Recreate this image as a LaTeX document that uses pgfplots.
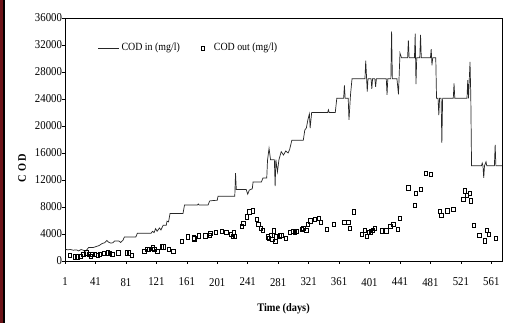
\documentclass[border=0pt]{standalone}
\usepackage{fontspec}
\setmainfont[FakeStretch=0.9]{Liberation Serif}
\usepackage{pgfplots}
\pgfplotsset{compat=1.18}
\definecolor{stripred}{RGB}{110,20,25}
\pgfplotsset{
  lineleg/.style={legend image code/.code={\draw[##1] (0pt,0pt) -- (21pt,0pt);}},
  markleg/.style={legend image code/.code={\path[draw=none,fill=none] (0pt,-1pt) rectangle (13pt,1pt); \draw[##1] plot coordinates {(4pt,0pt)};}}
}
\begin{document}
\begin{tikzpicture}[x=1pt,y=1pt]
\useasboundingbox (0,0) rectangle (511,323);
\fill[white] (0,0) rectangle (511,323);
\fill[stripred] (0,0) rectangle (3,323);
\fill[black] (3,0) rectangle (4.5,323);
\begin{axis}[
  at={(65pt,62pt)}, anchor=south west,
  scale only axis, width=437pt, height=243pt,
  xmin=1, xmax=575, ymin=0, ymax=36000,
  xtick={1,41,...,561}, ytick={0,4000,...,36000},
  scaled y ticks=false,
  /pgf/number format/assume math mode=true,
  /pgf/number format/1000 sep={},
  tick align=outside, major tick length=3pt,
  xtick pos=bottom, ytick pos=left,
  axis line style={line width=0.8pt},
  tick style={line width=0.6pt, black},
  tick label style={font=\fontsize{12}{14}\selectfont},
  xticklabel style={yshift=-10.5pt},
  yticklabel style={xshift=3.5pt},
  xlabel={\textbf{Time (days)}},
  xlabel style={at={(axis description cs:0.5,0)}, anchor=center, yshift=-48pt, font=\fontsize{11.5}{13}\selectfont},
  ylabel={\textbf{C O D}},
  ylabel style={at={(axis description cs:0,0.383)}, anchor=center, rotate=0, yshift=43pt, font=\fontsize{11.5}{13}\selectfont},
  legend style={at={(0.068,0.877)}, anchor=west, draw=none, fill=none,
    font=\fontsize{11}{13}\selectfont, legend columns=2,
    /tikz/every even column/.append style={column sep=17pt}},
  legend cell align=left,
]
\addplot[black!85, line width=0.7pt, lineleg] coordinates {
(1,1800)(4,1650)(8,1700)(12,1600)(16,1650)(19,1500)(22,1700)(25,1600)(28,1450)(30,1700)
(32,2000)(38,2000)(42,2150)(46,2300)(50,2600)(53,2700)(56,3050)(58,2800)(61,2650)(64,2700)
(66,2950)(72,2950)(74,2750)(77,3050)(79,3550)(94,3550)(96,4100)(114,4100)(116,4400)(118,4200)
(120,4800)(122,4400)(125,4900)(127,4600)(130,5300)(134,5300)(135,5900)(137,5800)(139,7050)(156,7050)
(158,8300)(175,8300)(176,8450)(177,8300)(189,8300)(191,8900)(195,8950)(201,9000)(202,9600)(224,9600)
(225,13000)(226,10600)(239,10600)(241,9900)(243,10500)(247,10700)(248,11700)(259,11700)(261,12300)(266,12300)
(267,14900)(269,16700)(271,15000)(276,15000)(277,11100)(278,15000)(280,13200)(282,15000)(285,16200)(288,15700)
(291,16300)(294,16000)(296,16500)(299,17900)(314,17900)(316,19400)(318,19700)(320,20900)(322,21800)(323,19700)
(325,22000)(346,22000)(347,22400)(348,22000)(356,22000)(358,24100)(367,24100)(368,26000)(369,24100)(373,24100)
(374,20900)(376,24600)(378,27000)(395,27000)(396,29700)(398,25100)(399,27000)(403,27000)(404,25500)(405,27000)
(408,27000)(409,25800)(410,27000)(423,27000)(424,24600)(425,27000)(429,27000)(430,34000)(431,27000)(437,27000)
(439,24700)(441,30800)(443,30100)(451,30100)(452,32700)(453,30100)(460,30100)(461,33700)(462,26200)(463,30100)
(467,30100)(468,33500)(469,30100)(481,30100)(482,31400)(483,29000)(484,30100)(488,30100)(489,24100)(491,24100)
(492,21600)(493,24100)(495,24100)(496,17500)(497,24100)(511,24100)(512,26300)(513,24100)(529,24100)(530,26800)
(531,24100)(533,29500)(534,24500)(535,14100)(548,14100)(549,14500)(550,14100)(551,12300)(552,14100)(554,14700)
(555,14100)(565,14100)(566,17200)(567,14100)(575,14100)
};
\addlegendentry{COD in (mg/l)}
\addplot[only marks, black, mark=square, mark size=2.1pt,
  mark options={solid, line width=0.5pt, xscale=0.8}, markleg] coordinates {
(7,890)(14,640)(17,640)(21,700)(25,1040)(29,1230)(32,1040)(35,700)(37,1040)(40,1040)
(44,890)(47,1040)(52,1140)(57,1230)(60,1140)(63,1040)(71,1230)(82,1230)(85,1230)(89,890)
(105,1480)(109,1730)(111,1730)(116,1970)(118,1730)(122,1480)(128,2120)(130,2120)(137,1730)(143,1480)
(154,2960)(162,3600)(170,3450)(171,3300)(177,3750)(185,3750)(191,3850)(192,4100)(199,4200)(207,4440)
(213,4250)(219,4000)(221,3700)(224,3700)(223,4200)(233,5180)(235,5580)(240,6560)(243,7300)(248,7450)
(253,6220)(255,5480)(258,4840)(261,4590)(267,3600)(269,3360)(271,3850)(273,3260)(275,4490)(277,2960)
(278,3600)(283,3750)(285,3850)(291,3360)(296,4250)(300,4440)(303,4250)(305,4440)(312,4690)(314,4840)
(318,4590)(320,5480)(323,5970)(329,6170)(334,6320)(337,5720)(345,4690)(354,5480)(368,5720)(373,5720)
(375,4840)(380,7300)(391,4000)(395,4590)(397,3700)(400,4250)(403,4340)(405,4590)(408,4840)(417,4490)
(423,4490)(428,5090)(432,5480)(438,4690)(441,6320)(452,10860)(460,8300)(462,10030)(468,10620)(475,12990)
(481,12840)(493,7410)(495,6810)(503,7450)(511,7660)(524,9140)(526,10410)(529,9780)(533,10030)(534,8930)
(538,5330)(545,3850)(552,3010)(555,4520)(558,4000)(567,3360)
};
\addlegendentry{COD out (mg/l)}
\end{axis}
\end{tikzpicture}
\end{document}
